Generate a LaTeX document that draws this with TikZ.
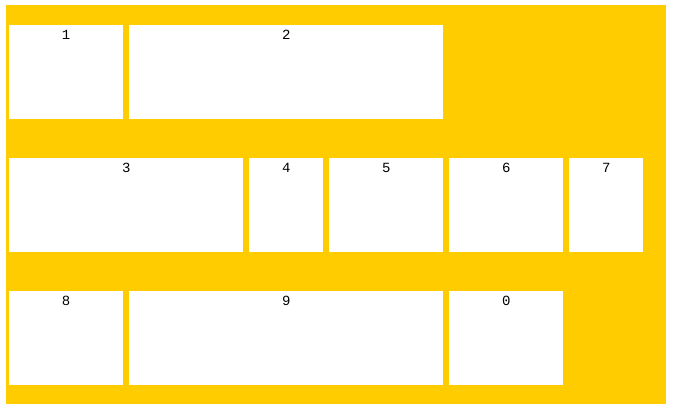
\documentclass[tikz,border=0pt]{standalone}
\usepackage{fontspec}
\setmonofont{Liberation Mono}
\usetikzlibrary{positioning}
\definecolor{panel}{RGB}{255,204,0}
\tikzset{
  cell/.style={fill=white, draw=none, inner sep=0pt, anchor=north west, minimum height=94pt},
  num/.style={font=\ttfamily\fontsize{14}{14}\selectfont, anchor=north, inner sep=0pt,
    text height=10pt, text depth=0pt, yshift=-4pt}
}

\begin{document}
\begin{tikzpicture}[x=1pt,y=1pt,yscale=-1,xscale=1]
\useasboundingbox (0,0) rectangle (677,414);
\fill [panel] (6,5) rectangle (666,404);
% first row
\node (c1) [cell, minimum width=114pt] at (9,25) {};
\node (c2) [cell, minimum width=314pt] at (129,25) {};
% second row
\node (c3) [cell, minimum width=234pt] at (9,158) {};
\node (c4) [cell, minimum width=74pt] at (249,158) {};
\node (c5) [cell, minimum width=114pt] at (329,158) {};
\node (c6) [cell, minimum width=114pt] at (449,158) {};
\node (c7) [cell, minimum width=74pt] at (569,158) {};
% third row
\node (c8) [cell, minimum width=114pt] at (9,291) {};
\node (c9) [cell, minimum width=314pt] at (129,291) {};
\node (c0) [cell, minimum width=114pt] at (449,291) {};
% labels
\node [num] at (c1.north) {1};
\node [num] at (c2.north) {2};
\node [num] at (c3.north) {3};
\node [num] at (c4.north) {4};
\node [num] at (c5.north) {5};
\node [num] at (c6.north) {6};
\node [num] at (c7.north) {7};
\node [num] at (c8.north) {8};
\node [num] at (c9.north) {9};
\node [num] at (c0.north) {0};
\end{tikzpicture}
\end{document}
